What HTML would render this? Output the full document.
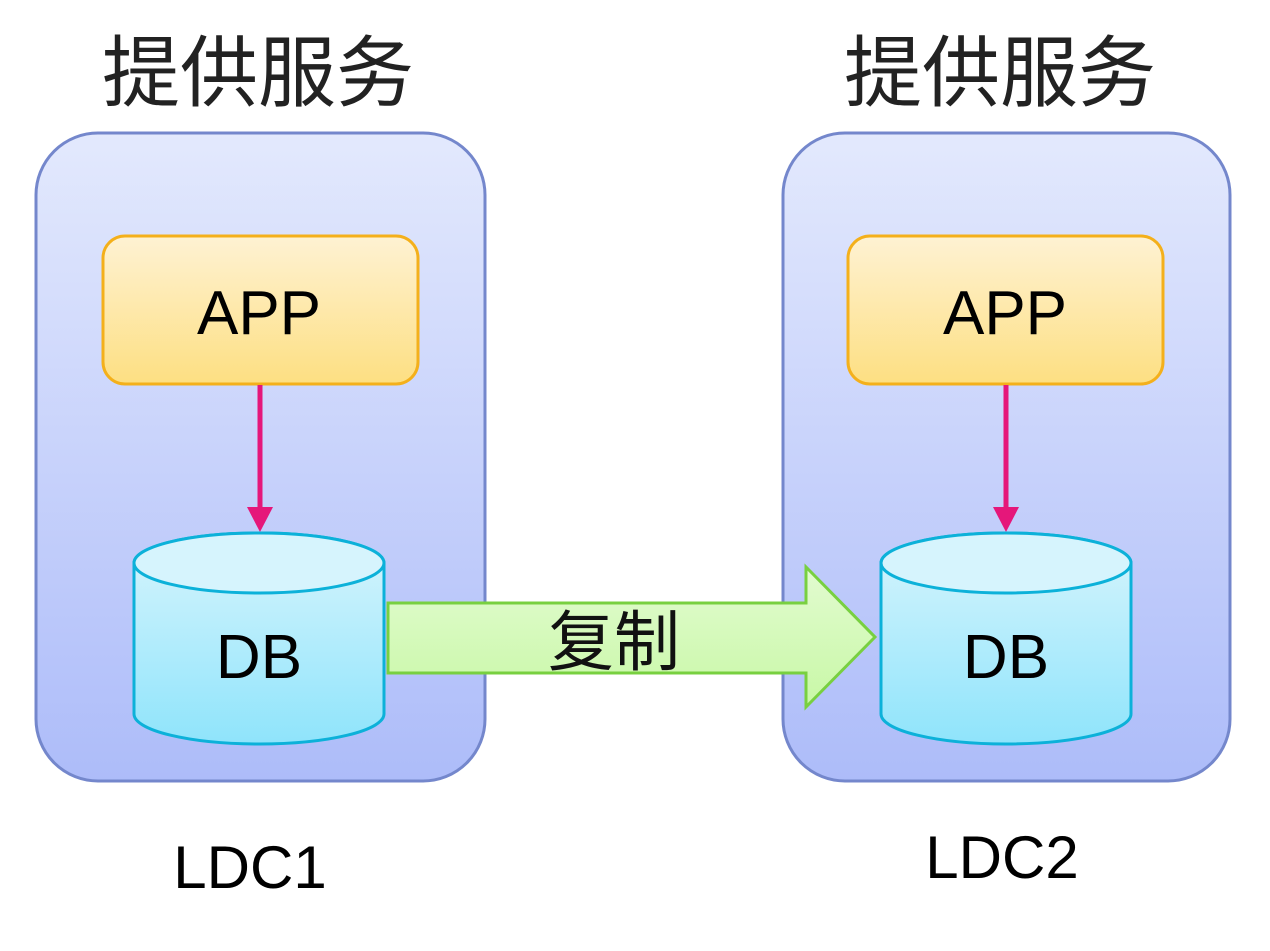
<!DOCTYPE html>
<html><head><meta charset="utf-8"><style>
body{margin:0;width:1270px;height:946px;background:#fff;overflow:hidden}
svg text{font-family:"Liberation Sans","Noto Sans CJK SC",sans-serif}
</style></head><body>
<svg width="1270" height="946" viewBox="0 0 1270 946">
<defs>
<linearGradient id="bg" x1="0" y1="0" x2="0" y2="1"><stop offset="0" stop-color="#e3e9fd"/><stop offset="1" stop-color="#adbcf9"/></linearGradient>
<linearGradient id="ap" x1="0" y1="0" x2="0" y2="1"><stop offset="0" stop-color="#fef2d3"/><stop offset="1" stop-color="#fddf82"/></linearGradient>
<linearGradient id="db" x1="0" y1="0" x2="0" y2="1"><stop offset="0" stop-color="#d8f5fd"/><stop offset="1" stop-color="#8fe4fb"/></linearGradient>
<linearGradient id="gr" x1="0" y1="0" x2="0" y2="1"><stop offset="0" stop-color="#e2fbd0"/><stop offset="1" stop-color="#c8f8a6"/></linearGradient>
</defs>
<g fill="#222">
<text x="258" y="100" font-size="78" text-anchor="middle" font-family="Noto Sans CJK SC,sans-serif">提供服务</text>
<text x="1000" y="100" font-size="78" text-anchor="middle" font-family="Noto Sans CJK SC,sans-serif">提供服务</text>
</g>
<g stroke="#7487cc" stroke-width="3" fill="url(#bg)">
<rect x="36" y="133" width="449" height="648" rx="62"/>
<rect x="783" y="133" width="447" height="648" rx="62"/>
</g>
<g stroke="#f4b01b" stroke-width="3" fill="url(#ap)">
<rect x="103" y="236" width="315" height="148" rx="22"/>
<rect x="848" y="236" width="315" height="148" rx="22"/>
</g>
<text x="259" y="334" font-size="62" text-anchor="middle" fill="#000">APP</text>
<text x="1005" y="334" font-size="62" text-anchor="middle" fill="#000">APP</text>
<g stroke="#e5177a" stroke-width="5"><line x1="260" y1="385" x2="260" y2="510"/><line x1="1006" y1="385" x2="1006" y2="510"/></g>
<g fill="#e5177a"><polygon points="247,507 273,507 260,532"/><polygon points="993,507 1019,507 1006,532"/></g>
<g stroke="#0cb1d9" stroke-width="3" fill="url(#db)">
<path d="M134,563 A125,30 0 0 1 384,563 L384,714 A125,30 0 0 1 134,714 Z"/>
<ellipse cx="259" cy="563" rx="125" ry="30" fill="#d6f4fd"/>
<path d="M881,563 A125,30 0 0 1 1131,563 L1131,714 A125,30 0 0 1 881,714 Z"/>
<ellipse cx="1006" cy="563" rx="125" ry="30" fill="#d6f4fd"/>
</g>
<text x="259" y="678" font-size="62" text-anchor="middle" fill="#000">DB</text>
<text x="1006" y="678" font-size="62" text-anchor="middle" fill="#000">DB</text>
<polygon points="388,603 806,603 806,567 875,637 806,707 806,673 388,673" fill="url(#gr)" stroke="#78d040" stroke-width="3"/>
<text x="614" y="665" font-size="66" text-anchor="middle" fill="#111" font-family="Noto Serif CJK SC,serif">复制</text>
<text x="250" y="888" font-size="60" text-anchor="middle" fill="#000">LDC1</text>
<text x="1002" y="878" font-size="60" text-anchor="middle" fill="#000">LDC2</text>
</svg>
</body></html>
